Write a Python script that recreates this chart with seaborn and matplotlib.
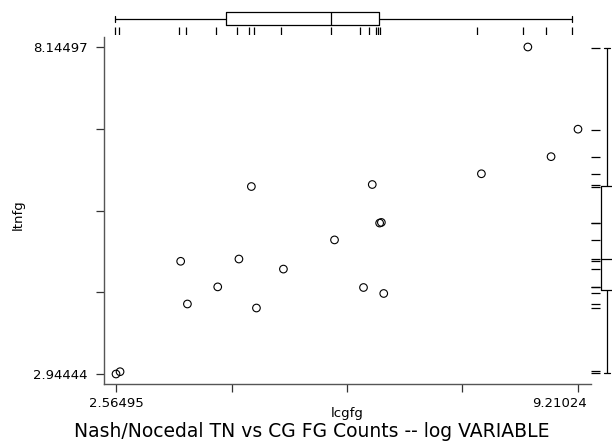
import numpy as np
import matplotlib
matplotlib.use("Agg")
import matplotlib.pyplot as plt
import matplotlib.transforms as mtransforms
import seaborn as sns

# log function-evaluation counts
lcgfg = [2.56495, 2.623, 3.495, 3.592, 4.028, 4.333, 4.512, 4.585, 4.973, 5.708,
         6.125, 6.251, 6.357, 6.382, 6.416, 7.821, 8.489, 8.823, 9.21024]
ltnfg = [2.94444, 2.981, 4.737, 4.058, 4.33, 4.773, 5.926, 3.994, 4.613, 5.077,
         4.32, 5.958, 5.345, 5.355, 4.225, 6.129, 8.14497, 6.401, 6.838]

title = "Nash/Nocedal TN vs CG FG Counts -- log VARIABLE"
x_name = "lcgfg"
y_name = "ltnfg"

sns.set_style("ticks")
plt.rcParams['font.family'] = ['DejaVu Sans']
plt.rcParams['text.color'] = 'black'
plt.rcParams['axes.labelcolor'] = 'black'
plt.rcParams['xtick.color'] = 'black'
plt.rcParams['ytick.color'] = 'black'

W, H = 612, 446
fig = plt.figure(figsize=(W / 100, H / 100), dpi=100)


def box(left, top, right, bottom):
    # pixel box -> figure fraction rect
    return [left / W, 1 - bottom / H, (right - left) / W, (bottom - top) / H]


xpad = 0.18
ypad = 0.159
xlim = (min(lcgfg) - xpad, max(lcgfg) + xpad)
ylim = (min(ltnfg) - ypad, max(ltnfg) + ypad)

# --- main scatter ---
ax = fig.add_axes(box(103.5, 37, 590.5, 384))
sns.scatterplot(x=lcgfg, y=ltnfg, ax=ax, marker='o', s=30,
                facecolors='none', edgecolors='black', linewidth=0.8)
ax.set_xlim(xlim)
ax.set_ylim(ylim)
sns.despine(ax=ax)
for side in ['left', 'bottom']:
    ax.spines[side].set_color('#555555')
    ax.spines[side].set_linewidth(1.0)

xt = np.linspace(min(lcgfg), max(lcgfg), 5)
yt = np.linspace(min(ltnfg), max(ltnfg), 5)
ax.set_xticks(xt)
ax.set_yticks(yt)
ax.set_xticklabels([f"{v:.6g}" if i in (0, 4) else "" for i, v in enumerate(xt)])
ax.set_yticklabels([f"{v:.6g}" if i in (0, 4) else "" for i, v in enumerate(yt)])
ax.tick_params(axis='x', length=6, width=0.9, color='#333333', pad=3.5, labelsize=9.5)
ax.tick_params(axis='y', length=6, width=0.9, color='#333333', pad=5.5, labelsize=9.5)
last = ax.get_xticklabels()[-1]
last.set_transform(last.get_transform() +
                   mtransforms.ScaledTranslation(-18 / 100, 0, fig.dpi_scale_trans))

ax.set_xlabel(x_name, fontsize=9.5)
ax.set_ylabel(y_name, fontsize=9.5)
ax.xaxis.set_label_coords(0.5, -0.066)
ax.yaxis.set_label_coords(-0.161, 0.487)

# --- top marginal: rug + box of lcgfg ---
axt = fig.add_axes(box(102.6, 8, 584.7, 35))
sns.rugplot(x=lcgfg, ax=axt, height=0.28, color='black', linewidth=0.9,
            expand_margins=False)
sns.boxplot(x=lcgfg, ax=axt, whis=(0, 100), fill=False, color='black',
            width=0.48, linewidth=0.9)
axt.set_xlim(xlim)
axt.set_ylim(-0.6, 0.4)
axt.set_axis_off()

# --- right marginal: rug + box of ltnfg ---
axr = fig.add_axes(box(591, 38.4, 623, 383.3))
sns.rugplot(y=ltnfg, ax=axr, height=0.27, color='black', linewidth=0.9,
            expand_margins=False)
sns.boxplot(y=ltnfg, ax=axr, whis=(0, 100), fill=False, color='black',
            width=0.406, linewidth=0.9)
axr.set_ylim(ylim)
axr.set_xlim(-0.506, 0.494)
axr.set_axis_off()

fig.text(0.51, 1 - 437 / H, title, ha='center', va='baseline', fontsize=13.5)

fig.savefig("out.png", dpi=100)
